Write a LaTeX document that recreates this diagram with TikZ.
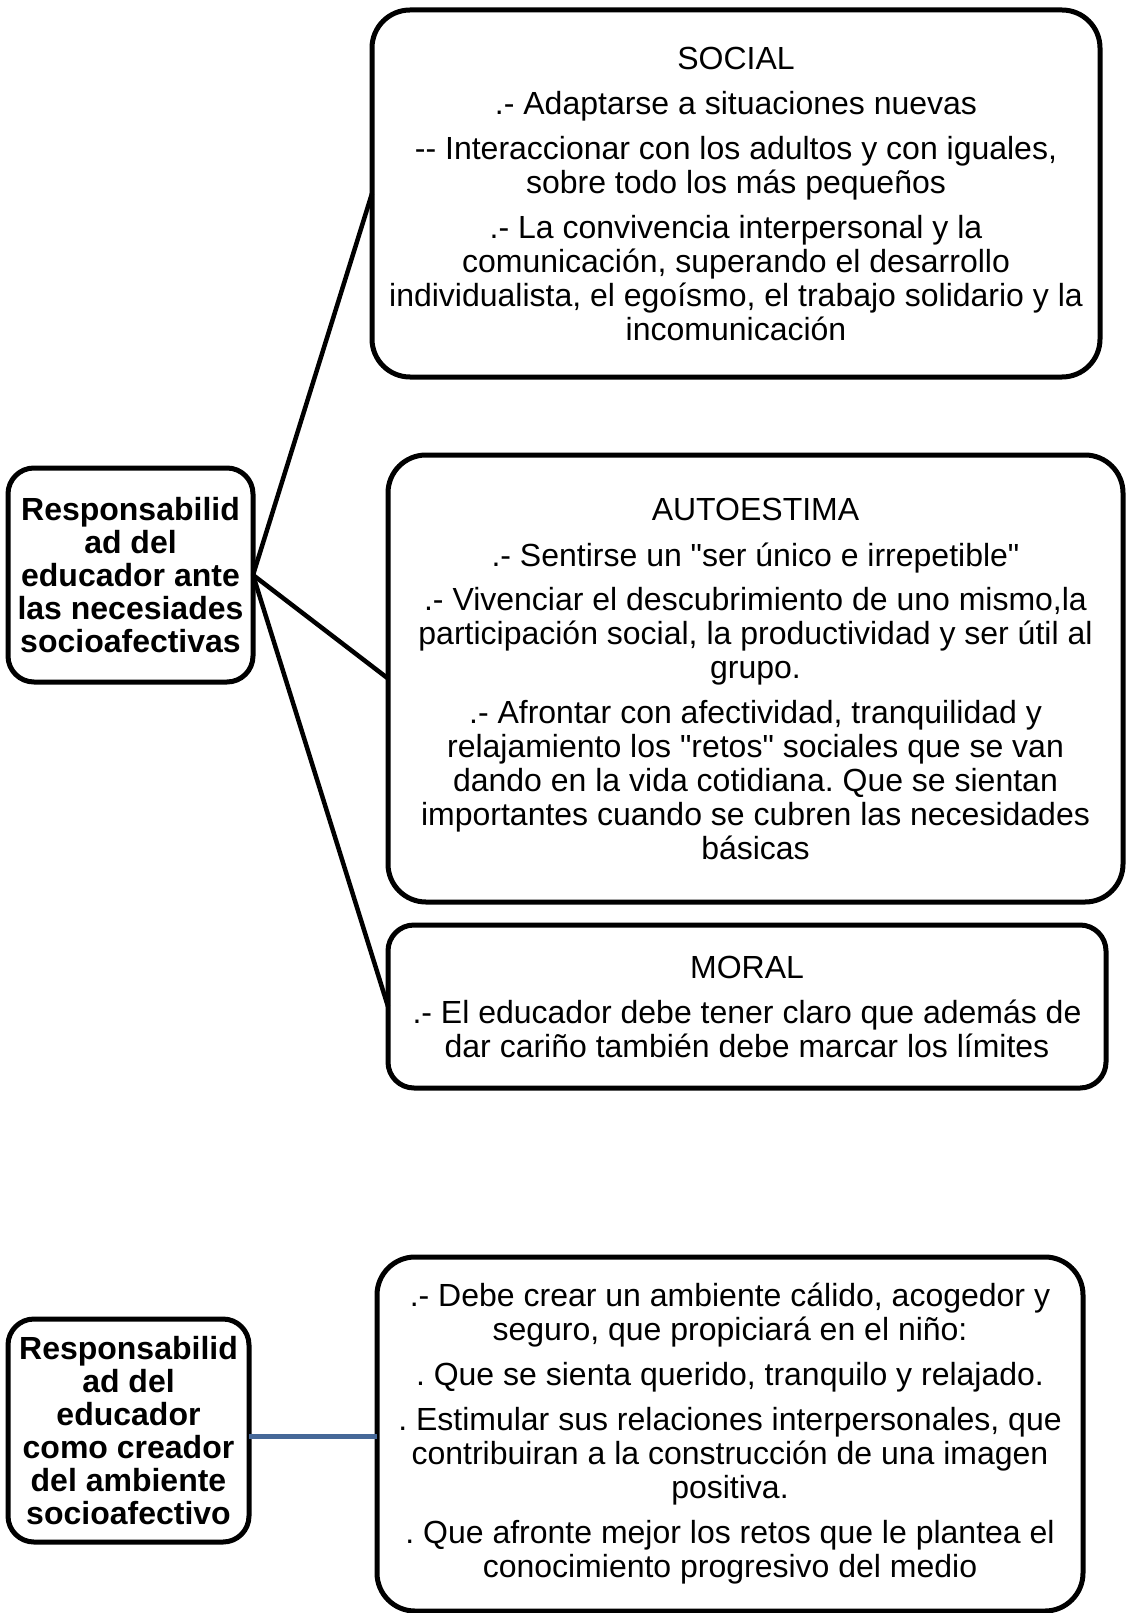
\documentclass[tikz,border=0pt]{standalone}
\usepackage{fontspec}
\setmainfont{Liberation Sans}[Ligatures=TeXOff]
\definecolor{linkblue}{RGB}{70,104,152}
\begin{document}
\frenchspacing
\begin{tikzpicture}[x=1pt,y=-1pt,
  box/.style={draw=black,line width=5pt,rounded corners=38pt,inner sep=0pt,outer sep=0pt,
    align=center,font=\fontsize{32}{34}\selectfont},
  headbox/.style={draw=black,line width=5pt,rounded corners=26pt,inner sep=0pt,outer sep=0pt,
    align=center,font=\bfseries\fontsize{32}{33}\selectfont},
  link/.style={line width=4.5pt,black},
  bluelink/.style={line width=4.5pt,linkblue}]
\useasboundingbox (0,0) rectangle (1128,1613);

\node[headbox,minimum width=245pt,minimum height=214pt] (b1) at (130.5,575)
 {Responsabilid\\ad del\\educador ante\\las necesiades\\socioafectivas};

\node[box,minimum width=728pt,minimum height=367pt] (social) at (736,193.5)
 {SOCIAL\\[11pt]
 .- Adaptarse a situaciones nuevas\\[11pt]
 -- Interaccionar con los adultos y con iguales,\\sobre todo los más pequeños\\[11pt]
 .- La convivencia interpersonal y la\\comunicación, superando el desarrollo\\individualista, el egoísmo, el trabajo solidario y la\\incomunicación};

\node[box,minimum width=735pt,minimum height=447pt] (auto) at (755.5,678.5)
 {AUTOESTIMA\\[12pt]
 .- Sentirse un "ser único e irrepetible"\\[10pt]
 .- Vivenciar el descubrimiento de uno mismo,la\\participación social, la productividad y ser útil al\\grupo.\\[11pt]
 .- Afrontar con afectividad, tranquilidad y\\relajamiento los "retos" sociales que se van\\dando en la vida cotidiana. Que se sientan\\importantes cuando se cubren las necesidades\\básicas};

\node[box,rounded corners=26pt,minimum width=718pt,minimum height=163pt] (moral) at (747,1006.5)
 {MORAL\\[11pt]
 .- El educador debe tener claro que además de\\dar cariño también debe marcar los límites};

\node[headbox,minimum width=241pt,minimum height=223pt] (b2) at (128.5,1430.5)
 {Responsabilid\\ad del\\educador\\como creador\\del ambiente\\socioafectivo};

\node[box,minimum width=706pt,minimum height=354pt] (env) at (730,1434)
 {.- Debe crear un ambiente cálido, acogedor y\\seguro, que propiciará en el niño:\\[11pt]
 . Que se sienta querido, tranquilo y relajado.\\[11pt]
 . Estimular sus relaciones interpersonales, que\\contribuiran a la construcción de una imagen\\positiva.\\[11pt]
 . Que afronte mejor los retos que le plantea el\\conocimiento progresivo del medio};

\draw[link] (b1.east) -- (social.west);
\draw[link] (b1.east) -- (auto.west);
\draw[link] (b1.east) -- (moral.west);
\coordinate (bstart) at ([yshift=-6pt]b2.east);
\draw[bluelink] (bstart) -- (bstart -| env.west);
\end{tikzpicture}
\end{document}
